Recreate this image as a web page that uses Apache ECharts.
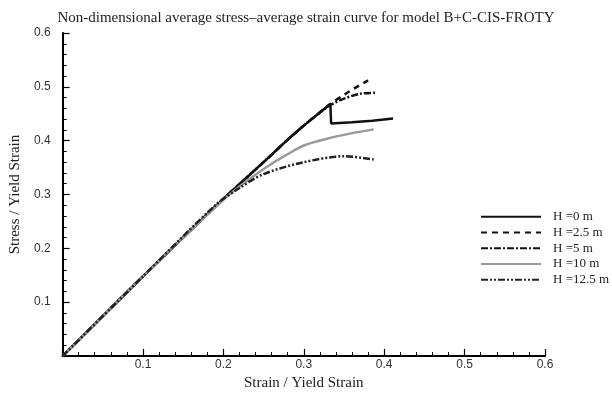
<!DOCTYPE html>
<html>
<head>
<meta charset="utf-8">
<script src="https://cdn.jsdelivr.net/npm/echarts@6/dist/echarts.min.js"></script>
<style>
  html, body { margin: 0; padding: 0; background: #fff; }
  #chartArea { width: 612px; height: 396px; }
</style>
</head>
<body>
<div id="chartArea"></div>
<script>
// 축 눈금
const xTicks = [0, 0.1, 0.2, 0.3, 0.4, 0.5, 0.6];
const yTicks = [0, 0.1, 0.2, 0.3, 0.4, 0.5, 0.6];

// series names
const seriesNames = ['H =0 m', 'H =2.5 m', 'H =5 m', 'H =10 m', 'H =12.5 m'];

// strain / stress values
const strainH0 = [0, 0.1, 0.2, 0.25, 0.28, 0.3, 0.318, 0.333, 0.334, 0.36, 0.385, 0.411];
const stressH0 = [0, 0.148, 0.292, 0.36, 0.402, 0.428, 0.45, 0.468, 0.432, 0.434, 0.437, 0.441];

const strainH25 = [0, 0.1, 0.2, 0.25, 0.28, 0.3, 0.318, 0.333, 0.35, 0.365, 0.38];
const stressH25 = [0, 0.148, 0.292, 0.36, 0.402, 0.428, 0.45, 0.468, 0.485, 0.499, 0.512];

const strainH5 = [0, 0.1, 0.2, 0.25, 0.28, 0.3, 0.318, 0.333, 0.35, 0.37, 0.391];
const stressH5 = [0, 0.148, 0.292, 0.36, 0.402, 0.428, 0.45, 0.466, 0.478, 0.487, 0.489];

const strainH10 = [0, 0.1, 0.2, 0.23, 0.26, 0.28, 0.3, 0.33, 0.36, 0.387];
const stressH10 = [0, 0.148, 0.29, 0.326, 0.357, 0.375, 0.391, 0.404, 0.414, 0.421];

const strainH125 = [0, 0.1, 0.19, 0.22, 0.25, 0.3, 0.35, 0.387];
const stressH125 = [0, 0.148, 0.28, 0.312, 0.338, 0.36, 0.371, 0.365];

function pairs(xs, ys) {
  return xs.map((x, i) => [x, ys[i]]);
}

const chartDom = document.getElementById('chartArea');
let myChart = echarts.init(chartDom);
let option;

const serif = 'Liberation Serif';
const sans = 'Liberation Sans';

function axisCommon(name, gap, ticks, labelMargin) {
  return {
    type: 'value',
    min: ticks[0],
    max: ticks[ticks.length - 1],
    interval: 0.1,
    name: name,
    nameLocation: 'middle',
    nameGap: gap,
    nameTextStyle: { fontFamily: serif, fontSize: 15, color: '#222' },
    axisLine: { show: true, lineStyle: { color: '#000', width: 2 } },
    axisTick: { show: true, inside: true, length: 7, lineStyle: { color: '#000', width: 1.2 } },
    minorTick: { show: true, splitNumber: 5, length: 4, lineStyle: { color: '#000' } },
    splitLine: { show: false },
    axisLabel: {
      margin: labelMargin,
      fontFamily: sans,
      fontSize: 12,
      color: '#333',
      formatter: function (v) { return v === 0 ? '' : v.toFixed(1); }
    }
  };
}

function lineSeries(idx, data, lineStyle, smooth) {
  return {
    name: seriesNames[idx],
    type: 'line',
    data: data,
    symbol: 'none',
    smooth: smooth,
    lineStyle: lineStyle,
    itemStyle: { color: lineStyle.color }
  };
}

option = {
  animation: false,
  backgroundColor: '#fff',
  title: {
    text: 'Non-dimensional average stress\u2013average strain curve for model B+C-CIS-FROTY',
    left: 'center',
    top: 6,
    textStyle: { fontFamily: serif, fontSize: 15, fontWeight: 'normal', color: '#222' }
  },
  grid: { left: 62, right: 67, top: 33, bottom: 34 },
  legend: {
    orient: 'vertical',
    left: 480,
    top: 209,
    padding: 0,
    itemWidth: 60,
    itemHeight: 2,
    itemGap: 0,
    itemStyle: { opacity: 0 },
    textStyle: { fontFamily: serif, fontSize: 13, color: '#222', lineHeight: 15.7, padding: [0, 0, 0, 7] },
    data: seriesNames
  },
  xAxis: axisCommon('Strain / Yield Strain', 20, xTicks, 3),
  yAxis: axisCommon('Stress / Yield Strain', 36, yTicks, 12),
  series: [
    lineSeries(0, pairs(strainH0, stressH0), { color: '#111', width: 2.5, type: 'solid' }, false),
    lineSeries(1, pairs(strainH25, stressH25), { color: '#111', width: 2.5, type: [6, 5] }, 0.3),
    lineSeries(2, pairs(strainH5, stressH5), { color: '#111', width: 2.5, type: [7, 2, 2, 2] }, 0.3),
    lineSeries(3, pairs(strainH10, stressH10), { color: '#9a9a9a', width: 2.5, type: 'solid' }, 0.3),
    lineSeries(4, pairs(strainH125, stressH125), { color: '#222', width: 2.5, type: [7, 2, 2, 2, 2, 2] }, 0.3)
  ]
};

option && myChart.setOption(option);
</script>
</body>
</html>
